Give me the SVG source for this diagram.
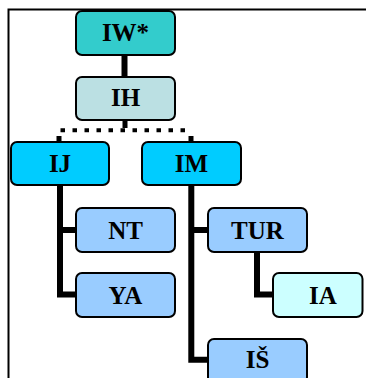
<svg xmlns="http://www.w3.org/2000/svg" width="366" height="378" viewBox="0 0 366 378">
<style>
.box{stroke:#000;stroke-width:2}
.lbl{font-family:"Liberation Serif","Times New Roman",serif;font-weight:bold;font-size:25px;text-anchor:middle;fill:#000}
.conn{stroke:#000;stroke-width:6;fill:none}
.dot{stroke:#000;stroke-width:4;fill:none;stroke-dasharray:4.5 7.5}
</style>
<rect x="0" y="0" width="366" height="378" fill="#fff"/>
<path d="M8.5,378 V9.5 H366" fill="none" stroke="#000" stroke-width="2"/>
<g id="connectors">
<path class="conn" d="M124.5,55 V77"/>
<path d="M125,120 V128" stroke="#000" stroke-width="5"/>
<path class="dot" d="M60.5,130.3 H192"/>
<path d="M59,136 V142 M191,136 V142" stroke="#000" stroke-width="5"/>
<path class="conn" d="M60,185 V294.5 H76 M57,230 H76"/>
<path class="conn" d="M191.3,185 V359.7 H208 M188.3,230 H208"/>
<path class="conn" d="M257,251 V294.5 H273"/>
</g>
<g id="IW"><rect class="box" x="76" y="11" width="99" height="44" rx="6" fill="#33CCCC"/><text class="lbl" x="125.5" y="41">IW*</text></g>
<g id="IH"><rect class="box" x="76" y="77" width="99" height="43" rx="6" fill="#BBE0E3"/><text class="lbl" x="125.5" y="106">IH</text></g>
<g id="IJ"><rect class="box" x="11" y="142" width="98" height="43" rx="6" fill="#00CCFF"/><text class="lbl" x="60" y="172">IJ</text></g>
<g id="IM"><rect class="box" x="142" y="142" width="99" height="43" rx="6" fill="#00CCFF"/><text class="lbl" x="191.5" y="172">IM</text></g>
<g id="NT"><rect class="box" x="76" y="208" width="99" height="44" rx="6" fill="#99CCFF"/><text class="lbl" x="125.5" y="238.5">NT</text></g>
<g id="YA"><rect class="box" x="76" y="273" width="99" height="44" rx="6" fill="#99CCFF"/><text class="lbl" x="125.5" y="303.5">YA</text></g>
<g id="TUR"><rect class="box" x="208" y="208" width="99" height="44" rx="6" fill="#99CCFF"/><text class="lbl" x="257.5" y="238.5">TUR</text></g>
<g id="IA"><rect class="box" x="273" y="273" width="89.5" height="44" rx="6" fill="#CCFFFF"/><text class="lbl" x="323" y="303.5">IA</text></g>
<g id="IS"><rect class="box" x="208" y="339" width="99" height="44" rx="6" fill="#99CCFF"/><text class="lbl" x="257.5" y="368">IŠ</text></g>
</svg>
